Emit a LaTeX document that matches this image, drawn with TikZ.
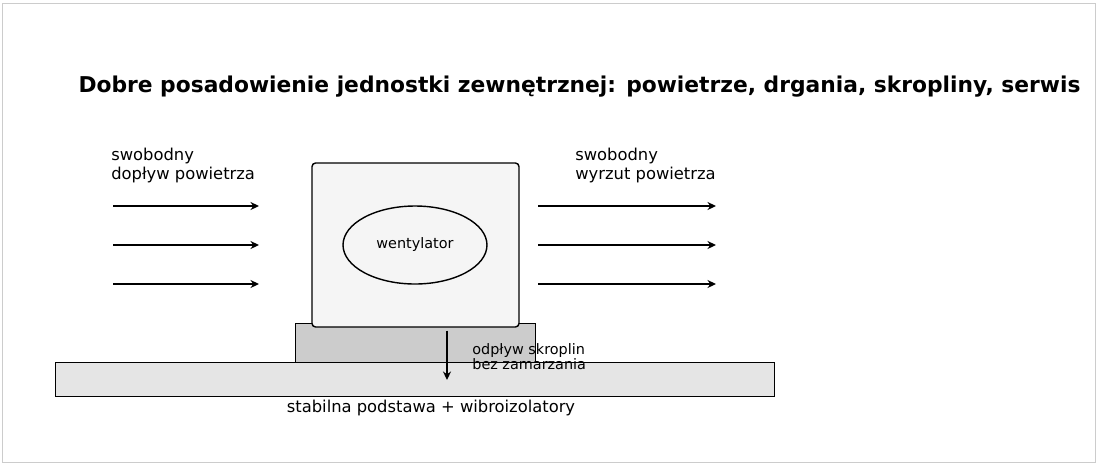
\documentclass[tikz,border=0pt]{standalone}
\usepackage{fontspec}
\setmainfont{DejaVu Sans}
\usepackage{tikz}
\usetikzlibrary{shapes.geometric,arrows.meta}

\tikzset{
    unitbox/.style={draw=black,thick,rounded corners=2pt,fill=black!4,
                    minimum width=4.14cm,minimum height=3.28cm},
    flowarrow/.style={-{Stealth[length=1.7mm,width=1.6mm]},thick},
    caption/.style={align=left,anchor=west,inner sep=0pt,
                    font=\fontsize{9.3}{10.9}\selectfont}
}

\begin{document}
\begin{tikzpicture}[x=0.02cm,y=-0.02cm]
\useasboundingbox (0,0) rectangle (1100,468);
\draw[black!20] (2,3) rectangle (1095,462);

\node (title) at (579.5,87) {\fontsize{12.4}{14}\selectfont\bfseries
    Dobre posadowienie jednostki zewnętrznej: powietrze, drgania, skropliny, serwis};

% podstawa i podkladka
\node (base)[draw=black,fill=black!10,minimum width=14.38cm,minimum height=0.68cm] at (414.5,379) {};
\node (pad)[draw=black,fill=black!20,minimum width=4.8cm,minimum height=0.78cm] at (415,342.5) {};
\node (unit)[unitbox] at (415.5,245) {};
\node (fan)[ellipse,draw=black,thick,inner sep=0pt,minimum width=2.88cm,minimum height=1.56cm,
            font=\fontsize{8.2}{9}\selectfont] at (415,245) {wentylator};

\node (baselbl) at (431,408) {\fontsize{9.3}{11}\selectfont stabilna podstawa + wibroizolatory};
\node (drainlbl)[align=left,anchor=west,inner sep=0pt,font=\fontsize{8.2}{8.6}\selectfont]
    at (472,356.5) {odpływ skroplin\\bez zamarzania};

\node (inlbl)[caption] at (111,165.5) {swobodny\\dopływ powietrza};
\node (outlbl)[caption] at (575,165.5) {swobodny\\wyrzut powietrza};

% strzalki powietrza
\coordinate (in1a) at (113,206);  \coordinate (in1b) at (259,206);
\coordinate (in2a) at (113,245);  \coordinate (in2b) at (259,245);
\coordinate (in3a) at (113,284);  \coordinate (in3b) at (259,284);
\coordinate (out1a) at (538,206); \coordinate (out1b) at (716,206);
\coordinate (out2a) at (538,245); \coordinate (out2b) at (716,245);
\coordinate (out3a) at (538,284); \coordinate (out3b) at (716,284);

\draw[flowarrow] (in1a) -- (in1b);
\draw[flowarrow] (in2a) -- (in2b);
\draw[flowarrow] (in3a) -- (in3b);
\draw[flowarrow] (out1a) -- (out1b);
\draw[flowarrow] (out2a) -- (out2b);
\draw[flowarrow] (out3a) -- (out3b);

% odplyw skroplin
\coordinate (drainend) at (447,380);
\draw[flowarrow] (unit.south -| drainend) ++(0,3) -- (drainend);
\end{tikzpicture}
\end{document}
